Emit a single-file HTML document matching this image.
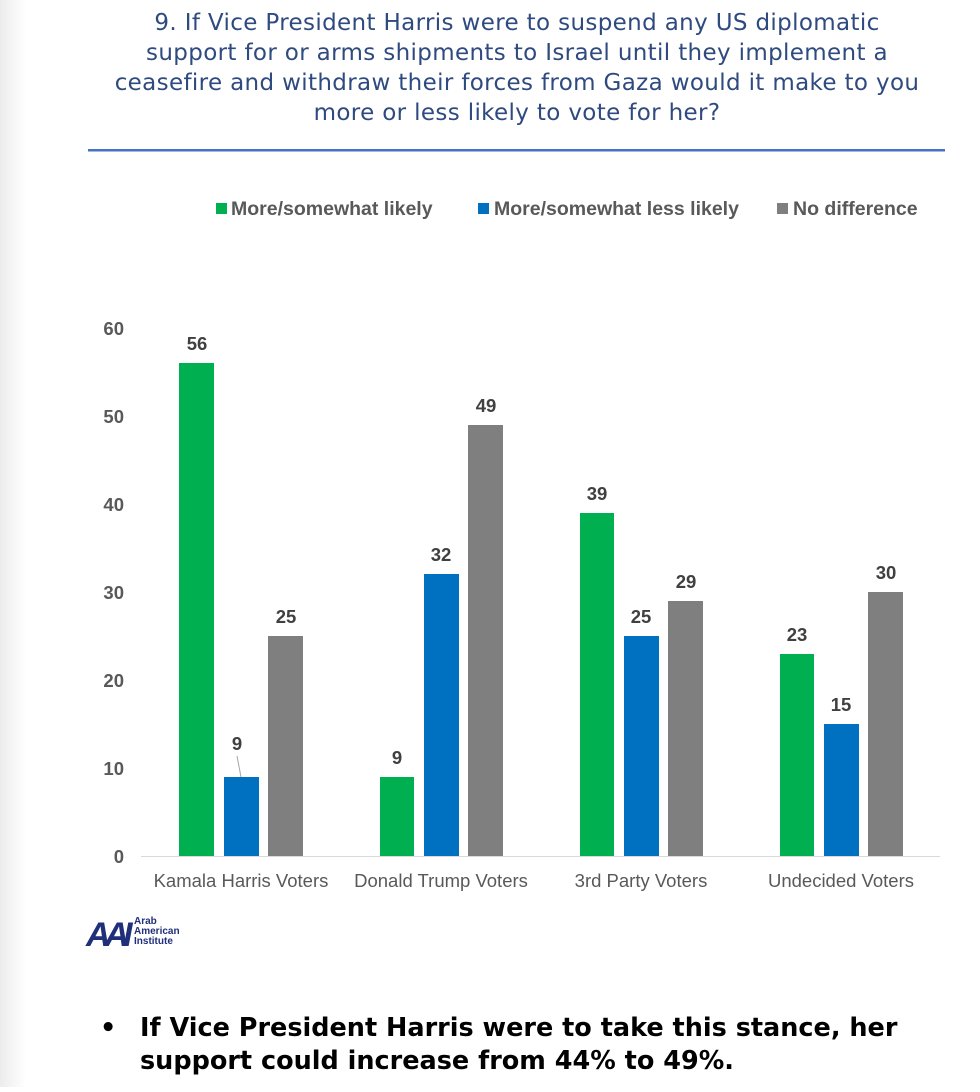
<!DOCTYPE html>
<html><head><meta charset="utf-8"><style>
html,body{margin:0;padding:0;background:#fff;}
body{width:980px;height:1087px;overflow:hidden;position:relative;}
</style></head><body>
<svg width="980" height="1087" viewBox="0 0 980 1087" xmlns="http://www.w3.org/2000/svg">
<defs><linearGradient id="lg" x1="0" x2="1"><stop offset="0" stop-color="#ececec"/><stop offset="1" stop-color="#ffffff"/></linearGradient></defs>
<rect x="0" y="0" width="26" height="1087" fill="url(#lg)"/>
<g font-family="'DejaVu Sans', 'Liberation Sans', sans-serif" font-size="23" fill="#2f4a7f" text-anchor="middle" letter-spacing="0.35">
<text x="517" y="30">9. If Vice President Harris were to suspend any US diplomatic</text>
<text x="517" y="60">support for or arms shipments to Israel until they implement a</text>
<text x="517" y="90">ceasefire and withdraw their forces from Gaza would it make to you</text>
<text x="517" y="120">more or less likely to vote for her?</text>
</g>
<rect x="88" y="149" width="857" height="2.5" fill="#4472c4"/>
<g font-family="'Liberation Sans', sans-serif" font-weight="bold" font-size="19.5" fill="#595959">
<rect x="216" y="203" width="11" height="11" fill="#00b050"/><text x="231" y="215">More/somewhat likely</text>
<rect x="478" y="203" width="11" height="11" fill="#0070c0"/><text x="494" y="215">More/somewhat less likely</text>
<rect x="777" y="203" width="11" height="11" fill="#7f7f7f"/><text x="793" y="215">No difference</text>
</g>
<line x1="141" y1="856.5" x2="940" y2="856.5" stroke="#d9d9d9" stroke-width="1"/>
<g font-family="'Liberation Sans', sans-serif" font-weight="bold" font-size="18.5" fill="#595959" text-anchor="end">
<text x="124" y="863">0</text><text x="124" y="775">10</text><text x="124" y="687">20</text>
<text x="124" y="599">30</text><text x="124" y="511">40</text><text x="124" y="423">50</text><text x="124" y="335">60</text>
</g>
<g>
<rect x="179" y="363" width="35" height="493" fill="#00b050"/>
<rect x="224" y="777" width="35" height="79" fill="#0070c0"/>
<rect x="268" y="636" width="35" height="220" fill="#7f7f7f"/>
<rect x="380" y="777" width="34" height="79" fill="#00b050"/>
<rect x="424" y="574" width="35" height="282" fill="#0070c0"/>
<rect x="468" y="425" width="35" height="431" fill="#7f7f7f"/>
<rect x="580" y="513" width="34" height="343" fill="#00b050"/>
<rect x="624" y="636" width="35" height="220" fill="#0070c0"/>
<rect x="668" y="601" width="35" height="255" fill="#7f7f7f"/>
<rect x="780" y="654" width="34" height="202" fill="#00b050"/>
<rect x="824" y="724" width="35" height="132" fill="#0070c0"/>
<rect x="868" y="592" width="35" height="264" fill="#7f7f7f"/>
</g>
<line x1="237" y1="756" x2="241" y2="777" stroke="#a6a6a6" stroke-width="1"/>
<g font-family="'Liberation Sans', sans-serif" font-weight="bold" font-size="18.5" fill="#404040" text-anchor="middle">
<text x="197" y="350">56</text><text x="237" y="750">9</text><text x="286" y="623">25</text>
<text x="397" y="764">9</text><text x="441" y="561">32</text><text x="486" y="412">49</text>
<text x="597" y="500">39</text><text x="641" y="623">25</text><text x="686" y="588">29</text>
<text x="797" y="641">23</text><text x="841" y="711">15</text><text x="886" y="579">30</text>
</g>
<g font-family="'Liberation Sans', sans-serif" font-size="18.5" fill="#595959" text-anchor="middle">
<text x="241" y="887">Kamala Harris Voters</text>
<text x="441" y="887">Donald Trump Voters</text>
<text x="641" y="887">3rd Party Voters</text>
<text x="841" y="887">Undecided Voters</text>
</g>
<g>
<text x="86" y="946" font-family="'Liberation Sans', sans-serif" font-weight="bold" font-style="italic" font-size="34" fill="#1f2f7a" letter-spacing="-6">AAI</text>
<g font-family="'Liberation Sans', sans-serif" font-weight="bold" font-size="10" fill="#1f2f7a">
<text x="134" y="924">Arab</text><text x="134" y="934">American</text><text x="134" y="944">Institute</text>
</g>
</g>
<g font-family="'DejaVu Sans', 'Liberation Sans', sans-serif" font-weight="bold" font-size="25.5" fill="#000">
<text x="100" y="1036">•</text>
<text x="140" y="1036">If Vice President Harris were to take this stance, her</text>
<text x="140" y="1069">support could increase from 44% to 49%.</text>
</g>
</svg>
</body></html>
